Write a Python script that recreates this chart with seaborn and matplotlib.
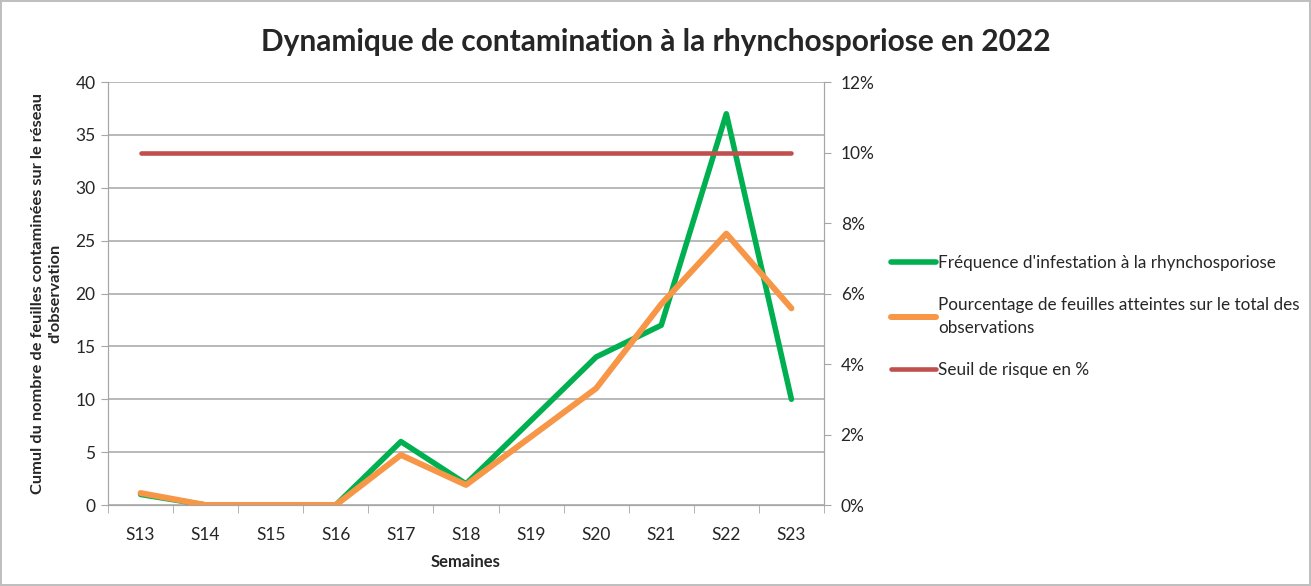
import pandas as pd
import numpy as np
import matplotlib
matplotlib.use("Agg")
import matplotlib.pyplot as plt
from matplotlib.ticker import PercentFormatter, FixedLocator
import seaborn as sns

# data
semaines = ["S13", "S14", "S15", "S16", "S17", "S18", "S19", "S20", "S21", "S22", "S23"]
frequence = [1, 0, 0, 0, 6, 2, 8, 14, 17, 37, 10]
pourcentage = [0.34, 0, 0, 0, 1.42, 0.57, 1.94, 3.31, 5.7, 7.7, 5.58]
seuil = [10] * 11

lab_freq = "Fréquence d'infestation à la rhynchosporiose"
lab_pct = "Pourcentage de feuilles atteintes sur le total des\nobservations"
lab_seuil = "Seuil de risque en %"

df = pd.DataFrame({"Semaine": semaines, "freq": frequence, "pct": pourcentage, "seuil": seuil})

sns.set_style("white")
plt.rcParams["font.family"] = ["Lato", "DejaVu Sans"]
grey = "#a6a6a6"

fig, ax = plt.subplots(figsize=(13.11, 5.86), dpi=100)
fig.subplots_adjust(left=0.0824, right=0.6285, top=0.860, bottom=0.1382)
fig.patch.set_edgecolor("#bfbfbf")
fig.patch.set_linewidth(1.5)

sns.lineplot(data=df, x="Semaine", y="freq", ax=ax, color="#00b050", lw=4, sort=False,
             label=lab_freq, legend=False)
ax2 = ax.twinx()
sns.lineplot(data=df, x="Semaine", y="pct", ax=ax2, color="#f79646", lw=4.3, sort=False,
             label=lab_pct, legend=False)
sns.lineplot(data=df, x="Semaine", y="seuil", ax=ax2, color="#c0504d", lw=3.3, sort=False,
             label=lab_seuil, legend=False)
for l in ax.lines + ax2.lines:
    l.set_solid_capstyle("round")

ax.set_xlim(-0.5, 10.5)
ax.set_ylim(0, 40)
ax.set_yticks(np.arange(0, 41, 5))
ax2.set_ylim(0, 12)
ax2.set_yticks(np.arange(0, 13, 2))
ax2.yaxis.set_major_formatter(PercentFormatter(100, decimals=0))

ax.grid(axis="y", color=grey, lw=1.1)
ax.set_axisbelow(True)
for a in (ax, ax2):
    for s in a.spines.values():
        s.set_color(grey)
    a.spines["top"].set_visible(False)

ax.tick_params(axis="y", direction="out", length=5, color=grey, labelsize=12.5, left=True, pad=4)
ax2.tick_params(axis="y", direction="out", length=5, color=grey, labelsize=12.5, right=True, pad=7)
ax.tick_params(axis="x", which="major", length=0, labelsize=12.5, pad=16)
ax.xaxis.set_minor_locator(FixedLocator(np.arange(-0.5, 11, 1)))
ax.tick_params(axis="x", which="minor", direction="out", length=6, color=grey, bottom=True)

ax.set_xlabel("Semaines", fontsize=12, fontweight="bold", labelpad=8)
ax.set_ylabel("Cumul du nombre de feuilles contaminées sur le réseau\nd'observation",
              fontsize=11.8, fontweight="bold", labelpad=9, linespacing=1.35)
ax2.set_ylabel("")

fig.suptitle("Dynamique de contamination à la rhynchosporiose en 2022", x=0.5, y=0.928,
             va="center", fontsize=21.5, fontweight="bold")

handles = ax.get_lines()[:1] + ax2.get_lines()[:2]
leg = fig.legend(handles, [lab_freq, lab_pct, lab_seuil], loc="center left",
                 bbox_to_anchor=(0.668, 0.46), frameon=False, fontsize=12.3,
                 handlelength=2.6, handletextpad=0.15, labelspacing=1.55)
for t in leg.get_texts():
    t.set_linespacing(1.5)

plt.savefig("out.png", dpi=100)
